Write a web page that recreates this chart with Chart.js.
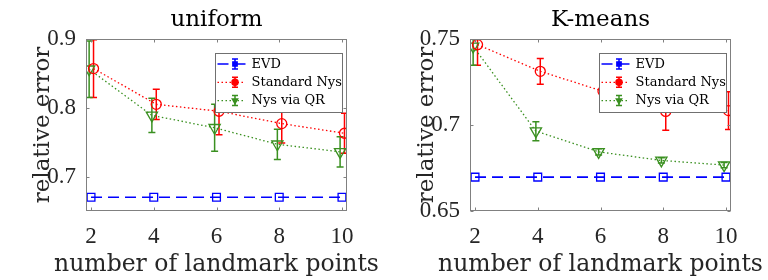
<!DOCTYPE html>
<html>
<head>
<meta charset="utf-8">
<script src="https://cdn.jsdelivr.net/npm/chart.js@4"></script>
<style>
  body { margin: 0; background: #fff; }
  .panel { position: absolute; top: 0; width: 384px; height: 280px; }
</style>
</head>
<body>
<div class="panel" style="left:0"><canvas id="chartUniform" width="384" height="280"></canvas></div>
<div class="panel" style="left:384px"><canvas id="chartKmeans" width="384" height="280"></canvas></div>
<script>
const landmarks = [2, 4, 6, 8, 10];
const seriesNames = ["EVD", "Standard Nys", "Nys via QR"];
const seriesColors = ["#0000ff", "#ff0000", "#3a9020"];
const xLabel = "number of landmark points";
const yLabel = "relative error";

// uniform sampling
const uniEvd = [0.670, 0.670, 0.670, 0.670, 0.670];
const uniStd = [0.857, 0.805, 0.795, 0.777, 0.763];
const uniStdErr = [0.042, 0.022, 0.034, 0.028, 0.029];
const uniQr = [0.856, 0.789, 0.771, 0.747, 0.736];
const uniQrErr = [0.041, 0.025, 0.034, 0.022, 0.022];
const uniYTicks = [0.7, 0.8, 0.9];

// K-means sampling
const kmEvd = [0.6697, 0.6697, 0.6697, 0.6697, 0.6697];
const kmStd = [0.7467, 0.7312, 0.7196, 0.7079, 0.7084];
const kmStdErr = [0.012, 0.0075, 0.008, 0.011, 0.011];
const kmQr = [0.7457, 0.6964, 0.6844, 0.6794, 0.6767];
const kmQrErr = [0.011, 0.0055, 0.0018, 0.0015, 0.0015];
const kmYTicks = [0.65, 0.7, 0.75];

// small horizontal shift so the error bars don't sit on top of each other
const STD_SHIFT = 0.08;
const QR_SHIFT = -0.06;

function pts(ys, shift) {
  return landmarks.map((x, i) => ({ x: x + shift, y: ys[i] }));
}

const errorBars = {
  id: "errorBars",
  beforeDatasetsDraw(chart) {
    const { ctx, chartArea: a, scales: { x, y } } = chart;
    ctx.save();
    ctx.beginPath();
    ctx.rect(a.left, a.top, a.right - a.left, a.bottom - a.top);
    ctx.clip();
    chart.data.datasets.forEach(ds => {
      if (!ds.errs) return;
      ctx.strokeStyle = ds.borderColor;
      ctx.lineWidth = 1.5;
      ctx.setLineDash([]);
      ds.data.forEach((p, i) => {
        const px = x.getPixelForValue(p.x);
        const y1 = y.getPixelForValue(p.y + ds.errs[i]);
        const y2 = y.getPixelForValue(p.y - ds.errs[i]);
        ctx.beginPath();
        ctx.moveTo(px, y1); ctx.lineTo(px, y2);
        ctx.moveTo(px - 3.5, y1); ctx.lineTo(px + 3.5, y1);
        ctx.moveTo(px - 3.5, y2); ctx.lineTo(px + 3.5, y2);
        ctx.stroke();
      });
    });
    ctx.restore();
  }
};

// box around the plot, inward ticks, and the x label (chart.js squeezes
// a scale title to the axis width, this one is wider than the axis)
const axesBox = {
  id: "axesBox",
  afterDatasetsDraw(chart) {
    const { ctx, chartArea: a, scales: { x, y } } = chart;
    const L = Math.round(a.left) + 0.5, R = Math.round(a.right) - 0.5;
    const T = Math.round(a.top) + 0.5, B = Math.round(a.bottom) - 0.5;
    ctx.save();
    ctx.strokeStyle = "#808080";
    ctx.lineWidth = 1;
    ctx.setLineDash([]);
    ctx.strokeRect(L, T, R - L, B - T);
    ctx.beginPath();
    x.ticks.forEach(t => {
      const px = Math.round(x.getPixelForValue(t.value)) + 0.5;
      ctx.moveTo(px, B); ctx.lineTo(px, B - 3);
      ctx.moveTo(px, T); ctx.lineTo(px, T + 3);
    });
    y.ticks.forEach(t => {
      const py = Math.round(y.getPixelForValue(t.value)) + 0.5;
      ctx.moveTo(L, py); ctx.lineTo(L + 3, py);
      ctx.moveTo(R, py); ctx.lineTo(R - 3, py);
    });
    ctx.stroke();
    ctx.fillStyle = "#262626";
    ctx.font = "23.5px 'DejaVu Serif'";
    ctx.textAlign = "center";
    ctx.textBaseline = "alphabetic";
    ctx.fillText(xLabel, (a.left + a.right) / 2, 270.5);
    ctx.restore();
  }
};

const matlabLegend = {
  id: "matlabLegend",
  afterDraw(chart) {
    const { ctx, chartArea: a } = chart;
    const lx = Math.round(a.left) + 129.5, ly = Math.round(a.top) + 14.5;
    const w = 127, h = 59;
    ctx.save();
    ctx.fillStyle = "#fff";
    ctx.fillRect(lx, ly, w, h);
    ctx.strokeStyle = "#707070";
    ctx.lineWidth = 1;
    ctx.strokeRect(lx, ly, w, h);
    chart.data.datasets.forEach((ds, i) => {
      const cy = ly + 10.5 + i * 18.3;
      const mx = lx + 19.5;
      ctx.strokeStyle = ds.borderColor;
      ctx.lineWidth = ds.borderWidth;
      ctx.setLineDash(ds.borderDash || []);
      ctx.beginPath();
      ctx.moveTo(lx + 2, cy); ctx.lineTo(lx + 30, cy);
      ctx.stroke();
      ctx.setLineDash([]);
      ctx.lineWidth = 1.5;
      ctx.beginPath();
      ctx.moveTo(mx, cy - 5); ctx.lineTo(mx, cy + 5);
      ctx.moveTo(mx - 3, cy - 5); ctx.lineTo(mx + 3, cy - 5);
      ctx.moveTo(mx - 3, cy + 5); ctx.lineTo(mx + 3, cy + 5);
      ctx.stroke();
      ctx.fillStyle = ds.borderColor;
      Chart.helpers.drawPoint(ctx, {
        pointStyle: ds.pointStyle, rotation: ds.pointRotation || 0,
        radius: 3, borderWidth: 1
      }, mx, cy);
      ctx.fillStyle = "#000";
      ctx.font = "13px 'DejaVu Serif'";
      ctx.textBaseline = "middle";
      ctx.textAlign = "left";
      ctx.fillText(seriesNames[i], lx + 36, cy + 0.5);
    });
    ctx.restore();
  }
};

function makeChart(id, title, evd, std, stdErr, qr, qrErr, yMin, yMax, yTicks) {
  return new Chart(document.getElementById(id), {
    type: "line",
    data: {
      datasets: [
        {
          label: seriesNames[0], data: pts(evd, 0), errs: null,
          borderColor: seriesColors[0], borderWidth: 1.6, borderDash: [11, 6],
          pointStyle: "rect", pointRadius: 5.5, pointBorderWidth: 1.3,
          pointBorderColor: seriesColors[0], pointBackgroundColor: "rgba(0,0,0,0)"
        },
        {
          label: seriesNames[1], data: pts(std, STD_SHIFT), errs: stdErr,
          borderColor: seriesColors[1], borderWidth: 1.3, borderDash: [1.5, 2.5],
          pointStyle: "circle", pointRadius: 5, pointBorderWidth: 1.3,
          pointBorderColor: seriesColors[1], pointBackgroundColor: "rgba(0,0,0,0)"
        },
        {
          label: seriesNames[2], data: pts(qr, QR_SHIFT), errs: qrErr,
          borderColor: seriesColors[2], borderWidth: 1.3, borderDash: [1.5, 2.5],
          pointStyle: "triangle", pointRotation: 180, pointRadius: 6.5, pointBorderWidth: 1.3,
          pointBorderColor: seriesColors[2], pointBackgroundColor: "rgba(0,0,0,0)"
        }
      ]
    },
    options: {
      responsive: false,
      animation: false,
      layout: { padding: { left: 0, right: 37, top: 0, bottom: 0 } },
      plugins: {
        legend: { display: false },
        tooltip: { enabled: false },
        title: {
          display: true, text: title, fullSize: false, color: "#000",
          font: { family: "DejaVu Serif", size: 23, weight: "normal" },
          padding: { top: 6, bottom: 5.4 }
        }
      },
      scales: {
        x: {
          type: "linear", min: 1.84, max: 10.16,
          afterBuildTicks: s => { s.ticks = landmarks.map(v => ({ value: v })); },
          afterFit: s => { s.height = 69; },
          grid: { display: false, drawTicks: false },
          border: { display: false },
          ticks: {
            color: "#262626", padding: 12, maxRotation: 0,
            font: { family: "Liberation Serif", size: 23 },
            callback: v => String(v)
          },
          title: { display: false }
        },
        y: {
          type: "linear", min: yMin, max: yMax,
          afterBuildTicks: s => { s.ticks = yTicks.map(v => ({ value: v })); },
          afterFit: s => { s.width = 86; },
          grid: { display: false, drawTicks: false },
          border: { display: false },
          ticks: {
            color: "#262626", padding: 10,
            font: { family: "Liberation Serif", size: 23 },
            callback: v => String(v)
          },
          title: {
            display: true, text: yLabel, color: "#262626",
            font: { family: "DejaVu Serif", size: 23 },
            padding: { top: 29, bottom: 0 }
          }
        }
      }
    },
    plugins: [errorBars, axesBox, matlabLegend]
  });
}

makeChart("chartUniform", "uniform", uniEvd, uniStd, uniStdErr, uniQr, uniQrErr, 0.65, 0.9, uniYTicks);
makeChart("chartKmeans", "K-means", kmEvd, kmStd, kmStdErr, kmQr, kmQrErr, 0.65, 0.75, kmYTicks);
</script>
</body>
</html>
